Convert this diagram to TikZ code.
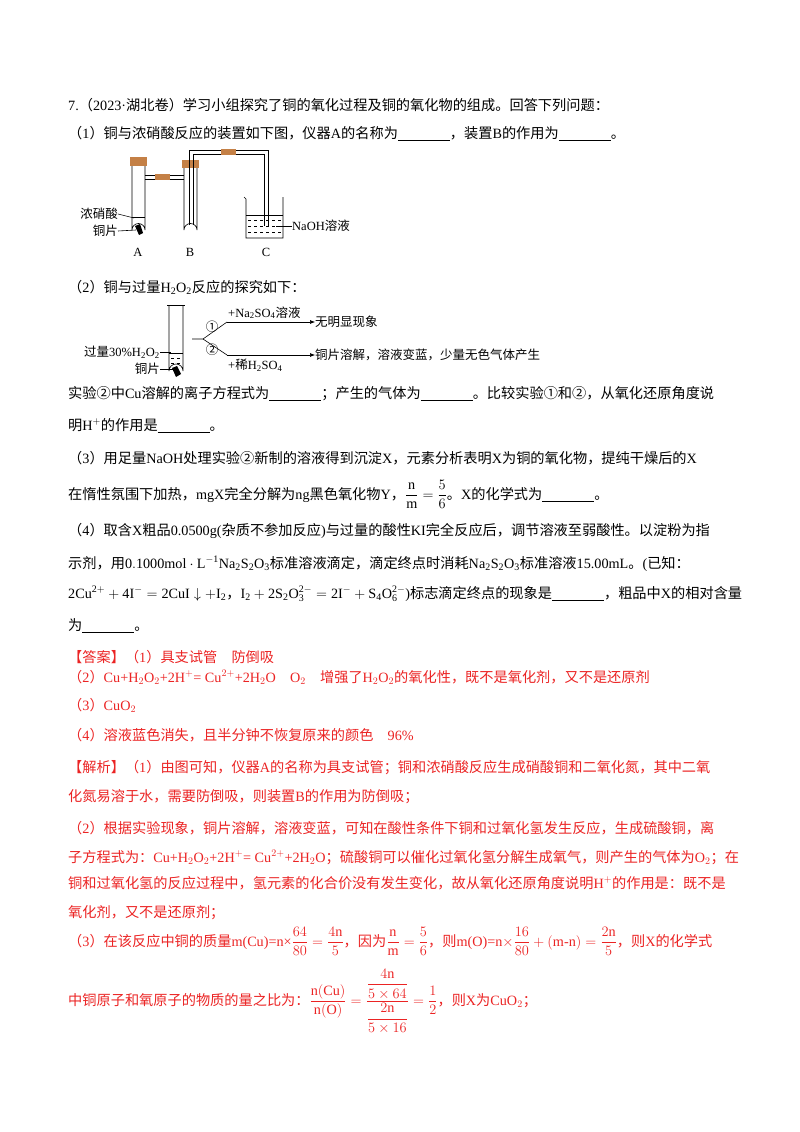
\documentclass[tikz,border=0pt]{standalone}
\usepackage{fontspec}
\usepackage{amsmath}
\setmainfont{Liberation Serif}
\newfontfamily\cjk{Noto Sans CJK SC}
\usetikzlibrary{arrows.meta,positioning}
\XeTeXinterchartokenstate=1
\newXeTeXintercharclass\CJKcls
\newcount\cc
\cc="4E00 \loop \XeTeXcharclass\cc=\CJKcls \ifnum\cc<"9FFF \advance\cc 1 \repeat
\cc="3000 \loop \XeTeXcharclass\cc=\CJKcls \ifnum\cc<"303F \advance\cc 1 \repeat
\cc="FF00 \loop \XeTeXcharclass\cc=\CJKcls \ifnum\cc<"FFEF \advance\cc 1 \repeat
\cc="2460 \loop \XeTeXcharclass\cc=\CJKcls \ifnum\cc<"2473 \advance\cc 1 \repeat
\XeTeXinterchartoks 0 \CJKcls = {\begingroup\cjk}
\XeTeXinterchartoks 4095 \CJKcls = {\begingroup\cjk}
\XeTeXinterchartoks \CJKcls 0 = {\endgroup}
\XeTeXinterchartoks \CJKcls 4095 = {\endgroup}
\definecolor{ansred}{RGB}{235,35,35}
\definecolor{cork}{RGB}{196,128,70}
\newcommand{\blank}{\underline{\hspace{52pt}}}
\newcommand{\ce}[1]{\ensuremath{\mathrm{#1}}}
\tikzset{
  line/.style={anchor=base west,inner sep=0pt,font=\fontsize{14.2}{18}\selectfont},
  ans/.style={line,text=ansred},
  lab/.style={inner sep=0pt,font=\fontsize{12.5}{15}\selectfont},
  glass/.style={line width=0.6pt},
  stopper/.style={fill=cork,draw=none},
  arr/.style={-{Latex[length=5pt,width=4pt]},line width=0.6pt},
}
\begin{document}
\begin{tikzpicture}[x=1pt,y=-1pt]
\useasboundingbox (0,0) rectangle (800,1132);
% question
\node[line] (q0) at (68,110) {7.（2023·湖北卷）学习小组探究了铜的氧化过程及铜的氧化物的组成。回答下列问题：};
\node[line] (q1) at (68,138) {（1）铜与浓硝酸反应的装置如下图，仪器A的名称为\blank，装置B的作用为\blank。};
% apparatus A, B, C
\draw[glass] (132,162) -- (132,230) arc (180:360:6.5) -- (145,162);
\draw[glass] (184,164) -- (184,230) arc (180:360:6.5) -- (197,164);
\draw[stopper] (130,157) rectangle (147,166);
\draw[stopper] (182,160) rectangle (199,168);
\draw[glass] (145,175) -- (184,175) (145,179) -- (184,179);
\draw[stopper] (155,174) rectangle (170,180);
\draw[glass] (189,225) -- (189,150) -- (268,150) -- (268,226);
\draw[glass] (193,225) -- (193,154) -- (264,154) -- (264,226);
\draw[stopper] (221,149) rectangle (236,155);
\draw[glass] (132,217) -- (145,217);
\draw[glass] (244,197) -- (246,199) -- (246,238) -- (283,238) -- (283,197);
\draw[glass] (246,215) -- (283,215);
\foreach \yy in {220,226,232} \draw[dashed,line width=0.4pt] (248,\yy) -- (281,\yy);
\fill (135,226) -- (140,224) -- (143,233) -- (139,235) -- cycle;
\node[lab,anchor=east] (hno3) at (118,214) {浓硝酸};
\node[lab,anchor=east] (cu1) at (118,231) {铜片};
\draw[glass] (hno3.east) -- (134,218);
\draw[glass] (cu1.east) -- (136,230);
\node[lab,anchor=west] (naoh) at (292,226) {NaOH溶液};
\draw[glass] (naoh.west) -- (276,226);
\node[lab] (la) at (138,252) {A};
\node[lab] (lb) at (190,252) {B};
\node[lab] (lc) at (266,252) {C};
\node[line] (q2) at (68,292) {（2）铜与过量$\ce{H_2O_2}$反应的探究如下：};
% experiment
\draw[glass] (169,305) -- (169,371) arc (180:360:7) -- (183,305);
\draw[glass] (167,305) -- (185,305);
\draw[glass] (169,353) -- (183,353);
\foreach \yy in {358,363} \draw[dashed,line width=0.4pt] (171,\yy) -- (181,\yy);
\fill (172,368) -- (177,366) -- (181,374) -- (176,377) -- cycle;
\coordinate (stem) at (192,339);
\coordinate (fork) at (203,339);
\coordinate (up) at (227,322);
\coordinate (dn) at (227,355);
\node[lab,anchor=west] (r1) at (315,322) {无明显现象};
\node[lab,anchor=west] (r2) at (315,355) {铜片溶解，溶液变蓝，少量无色气体产生};
\draw[glass] (stem) -- (fork) -- (up);
\draw[glass] (fork) -- (dn);
\draw[arr] (up) -- (r1.west);
\draw[arr] (dn) -- (r2.west);
\node[lab,anchor=south west] at (228,319) {+$\ce{Na_2SO_4}$溶液};
\node[lab,anchor=north west] at (228,359) {+稀$\ce{H_2SO_4}$};
\node[lab] at (212,327) {①};
\node[lab] at (212,350) {②};
\node[lab,anchor=east] (h2o2) at (160,352) {过量30\%$\ce{H_2O_2}$};
\node[lab,anchor=east] (cu2) at (160,369) {铜片};
\draw[glass] (h2o2.east) -- (171,352);
\draw[glass] (cu2.east) -- (174,369);
\node[line] (q3) at (68,398) {实验②中Cu溶解的离子方程式为\blank；产生的气体为\blank。比较实验①和②，从氧化还原角度说};
\node[line] (q4) at (68,430) {明$\ce{H^+}$的作用是\blank。};
\node[line] (q5) at (68,463) {（3）用足量NaOH处理实验②新制的溶液得到沉淀X，元素分析表明X为铜的氧化物，提纯干燥后的X};
\node[line] (q6) at (68,499) {在惰性氛围下加热，mgX完全分解为ng黑色氧化物Y，$\dfrac{\ce{n}}{\ce{m}}=\dfrac{5}{6}$。X的化学式为\blank。};
\node[line] (q7) at (68,535) {（4）取含X粗品0.0500g(杂质不参加反应)与过量的酸性KI完全反应后，调节溶液至弱酸性。以淀粉为指};
\node[line] (q8) at (68,568) {示剂，用$\ce{0.1000mol\cdot L^{-1}Na_2S_2O_3}$标准溶液滴定，滴定终点时消耗$\ce{Na_2S_2O_3}$标准溶液15.00mL。(已知：};
\node[line] (q9) at (68,598) {$\ce{2Cu^{2+}+4I^-=2CuI\downarrow+I_2}$，$\ce{I_2+2S_2O_3^{2-}=2I^-+S_4O_6^{2-}}$)标志滴定终点的现象是\blank，粗品中X的相对含量};
\node[line] (q10) at (68,630) {为\blank。};
% answer
\node[ans] (a0) at (68,662) {【答案】（1）具支试管\quad 防倒吸};
\node[ans] (a1) at (68,682) {（2）Cu+H$_2$O$_2$+2H$^+$= Cu$^{2+}$+2H$_2$O\quad O$_2$\quad 增强了H$_2$O$_2$的氧化性，既不是氧化剂，又不是还原剂};
\node[ans] (a2) at (68,710) {（3）CuO$_2$};
\node[ans] (a3) at (68,740) {（4）溶液蓝色消失，且半分钟不恢复原来的颜色\quad 96\%};
\node[ans] (e0) at (68,772) {【解析】（1）由图可知，仪器A的名称为具支试管；铜和浓硝酸反应生成硝酸铜和二氧化氮，其中二氧};
\node[ans] (e1) at (68,801) {化氮易溶于水，需要防倒吸，则装置B的作用为防倒吸；};
\node[ans] (e2) at (68,833) {（2）根据实验现象，铜片溶解，溶液变蓝，可知在酸性条件下铜和过氧化氢发生反应，生成硫酸铜，离};
\node[ans] (e3) at (68,862) {子方程式为：Cu+H$_2$O$_2$+2H$^+$= Cu$^{2+}$+2H$_2$O；硫酸铜可以催化过氧化氢分解生成氧气，则产生的气体为O$_2$；在};
\node[ans] (e4) at (68,888) {铜和过氧化氢的反应过程中，氢元素的化合价没有发生变化，故从氧化还原角度说明$\ce{H^+}$的作用是：既不是};
\node[ans] (e5) at (68,917) {氧化剂，又不是还原剂；};
\node[ans] (e6) at (68,946) {（3）在该反应中铜的质量m(Cu)=n×$\dfrac{64}{80}=\dfrac{4\ce{n}}{5}$，因为$\dfrac{\ce{n}}{\ce{m}}=\dfrac{5}{6}$，则m(O)=n$\times\dfrac{16}{80}+(\ce{m\text{-}n})=\dfrac{2\ce{n}}{5}$，则X的化学式};
\node[ans] (e7) at (68,1005) {中铜原子和氧原子的物质的量之比为：$\dfrac{\ce{n(Cu)}}{\ce{n(O)}}=\dfrac{\dfrac{4\ce{n}}{5\times64}}{\dfrac{2\ce{n}}{5\times16}}=\dfrac{1}{2}$，则X为CuO$_2$；};
\end{tikzpicture}
\end{document}
